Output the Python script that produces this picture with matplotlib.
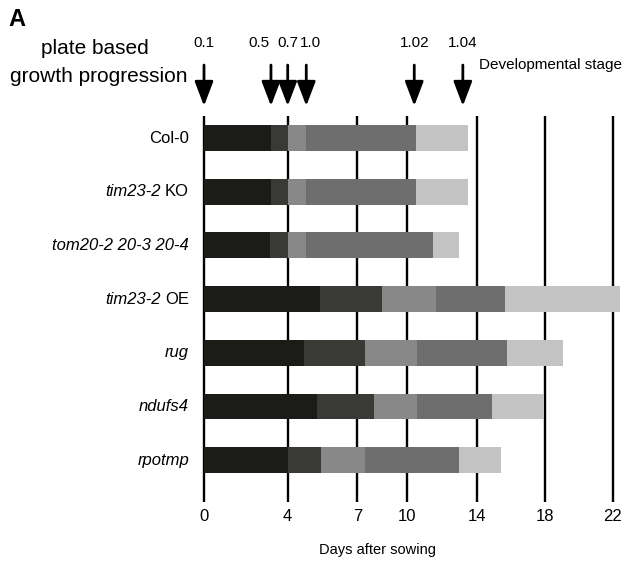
import numpy as np
import matplotlib.pyplot as plt
from matplotlib.ticker import NullLocator

plt.rcParams['font.family'] = ['Liberation Sans', 'DejaVu Sans']

# plant lines, label split into italic gene part and plain suffix
label_italic = ["", "tim23-2", "tom20-2 20-3 20-4", "tim23-2", "rug", "ndufs4", "rpotmp"]
label_plain = ["Col-0", "KO", "", "OE", "", "", ""]

# day at which each growth phase ends (days after sowing)
black_end = [3.2, 3.2, 3.17, 5.4, 4.7, 5.25, 4.0]
dark_end = [4.0, 4.0, 4.0, 8.5, 7.44, 7.98, 5.45]
mid_end = [4.8, 4.8, 4.8, 11.65, 10.54, 10.58, 7.44]
gray_end = [10.5, 10.5, 11.5, 15.66, 15.76, 14.9, 12.96]
light_end = [13.5, 13.5, 13.0, 22.4, 19.05, 17.96, 15.42]

stage_labels = ["0.1", "0.5", "0.7", "1.0", "1.02", "1.04"]
stage_days = [0.0, 3.2, 4.0, 4.8, 10.4, 13.2]

day_ticks = [0, 4, 7, 10, 14, 18, 22]

seg_colors = ["#1b1b17", "#393935", "#888888", "#6e6e6e", "#c3c3c3"]

# the day axis is drawn with uneven spacing between ticks
pos_days = [-4, 0, 4, 7, 10, 14, 18, 22, 26]
pos_px = [-83.7, 0, 83.7, 153.3, 203.3, 272.7, 341, 408.7, 476.4]


def fwd(d):
    return np.interp(d, pos_days, pos_px)


def inv(p):
    return np.interp(p, pos_px, pos_days)


W, H = 629, 561
fig = plt.figure(figsize=(W / 100, H / 100), dpi=100)
ax = fig.add_axes([201.9 / W, (H - 502) / H, 421 / W, 386 / H])
ax.set_xscale('function', functions=(fwd, inv))
ax.set_xlim(-0.1, 22.6)
ax.set_ylim(6.78, -0.41)

for d in day_ticks:
    ax.axvline(d, color='black', lw=1.7, zorder=0)

rows = np.arange(len(label_italic))
ends = [black_end, dark_end, mid_end, gray_end, light_end]
start = np.zeros(len(rows))
for seg, col in zip(ends, seg_colors):
    seg = np.array(seg)
    ax.barh(rows, seg - start, left=start, height=0.48, color=col, zorder=2)
    start = seg

# row labels
for i in rows:
    if label_plain[i]:
        t = ax.annotate(label_plain[i], xy=(0, i), xytext=(-15, 0),
                        textcoords='offset pixels', ha='right', va='center',
                        fontsize=12, annotation_clip=False)
        if label_italic[i]:
            ax.annotate(label_italic[i], xy=(0, 0.5), xycoords=t,
                        xytext=(-4, 0), textcoords='offset pixels',
                        ha='right', va='center', style='italic', fontsize=12)
    else:
        ax.annotate(label_italic[i], xy=(0, i), xytext=(-15, 0),
                    textcoords='offset pixels', ha='right', va='center',
                    style='italic', fontsize=12, annotation_clip=False)

# stage arrows
trans = ax.get_xaxis_transform()
label_dx = [0, -12, 0, 4, 0, 0]
for d, lab, dx in zip(stage_days, stage_labels, label_dx):
    ax.annotate('', xy=(d, 1.026), xycoords=trans, xytext=(d, 1.132),
                textcoords=trans, annotation_clip=False,
                arrowprops=dict(arrowstyle='-|>,head_length=1.0,head_width=0.38',
                                mutation_scale=15, lw=2.0, color='black',
                                shrinkA=0, shrinkB=0))
    ax.annotate(lab, xy=(d, 1.189), xycoords=trans, xytext=(dx, 0),
                textcoords='offset pixels', ha='center', va='center',
                fontsize=11, annotation_clip=False)

ax.set_xticks(day_ticks)
ax.set_xticklabels([str(d) for d in day_ticks], fontsize=12)
ax.xaxis.set_minor_locator(NullLocator())
ax.tick_params(axis='x', length=0, pad=5)
ax.set_yticks([])
for s in ax.spines.values():
    s.set_visible(False)

fig.text(8 / W, 1 - 20 / H, "A", fontsize=17, fontweight='bold', ha='left', va='center')
fig.text(95 / W, 1 - 48 / H, "plate based", fontsize=15, ha='center', va='center')
fig.text(99 / W, 1 - 77 / H, "growth progression", fontsize=15, ha='center', va='center')
fig.text(479 / W, 1 - 65 / H, "Developmental stage", fontsize=11, ha='left', va='center')
fig.text(377.5 / W, 1 - 550 / H, "Days after sowing", fontsize=10.5, ha='center', va='center')

fig.savefig('out.png', dpi=100)
